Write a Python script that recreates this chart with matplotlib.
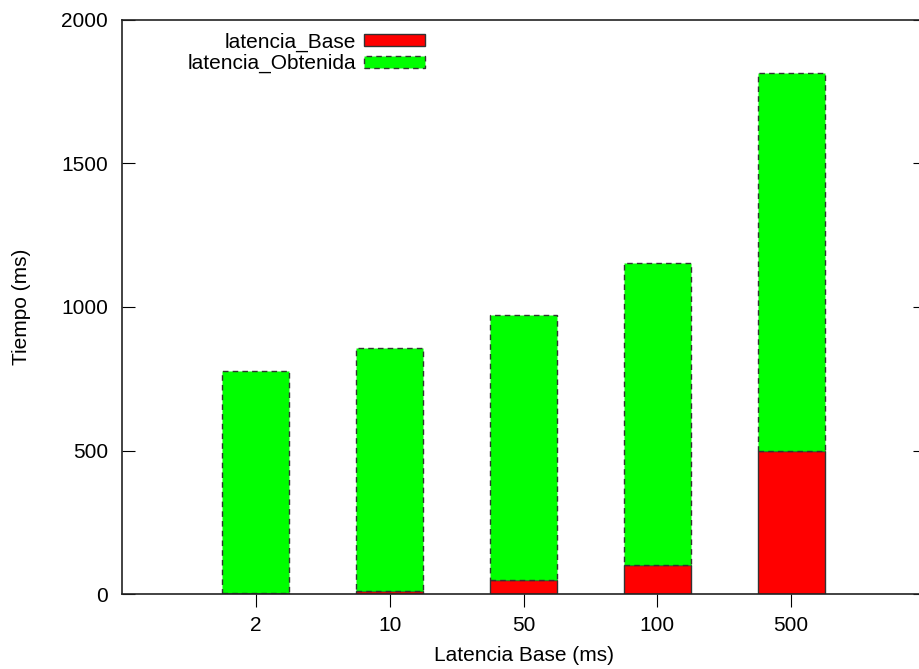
import matplotlib.pyplot as plt
import numpy as np

plt.rcParams['font.family'] = ['Liberation Sans', 'DejaVu Sans']

categorias = ['2', '10', '50', '100', '500']
latencia_base = [2, 10, 50, 100, 500]
latencia_obtenida = [775, 847, 922, 1053, 1315]

fig = plt.figure(figsize=(9.19, 6.69), dpi=100)
ax = fig.add_axes([122 / 919, (669 - 594) / 669, (925 - 122) / 919, (594 - 20) / 669])

x = np.arange(len(categorias))
ancho = 0.5
b1 = ax.bar(x, latencia_base, ancho, color='#ff0000', edgecolor='#333333',
            linewidth=1, label='latencia_Base')
b2 = ax.bar(x, latencia_obtenida, ancho, bottom=latencia_base, color='#00ff00',
            edgecolor='#333333', linewidth=1, linestyle=(0, (4, 3)),
            label='latencia_Obtenida')

ax.set_xlim(-1, 5)
ax.set_ylim(0, 2000)
ax.set_xticks(x)
ax.set_xticklabels(categorias)
ax.set_yticks([0, 500, 1000, 1500, 2000])
ax.tick_params(axis='y', direction='in', length=9, right=True, labelsize=15, pad=10)
ax.tick_params(axis='x', direction='out', length=9, labelsize=15, pad=7)
for s in ax.spines.values():
    s.set_linewidth(1.2)
    s.set_color('#222222')

ax.set_xlabel('Latencia Base (ms)', fontsize=15, labelpad=8)
ax.set_ylabel('Tiempo (ms)', fontsize=15, labelpad=22)

leg = ax.legend(loc='upper right', bbox_to_anchor=(0.377, 0.978), frameon=False,
                markerfirst=False, fontsize=15, handlelength=2.9, handleheight=0.5,
                labelspacing=0.1, handletextpad=0.4, borderaxespad=0, borderpad=0)
for t in leg.get_texts():
    t.set_ha('right')
leg._legend_box.align = 'right'

fig.savefig('out.png', dpi=100)
